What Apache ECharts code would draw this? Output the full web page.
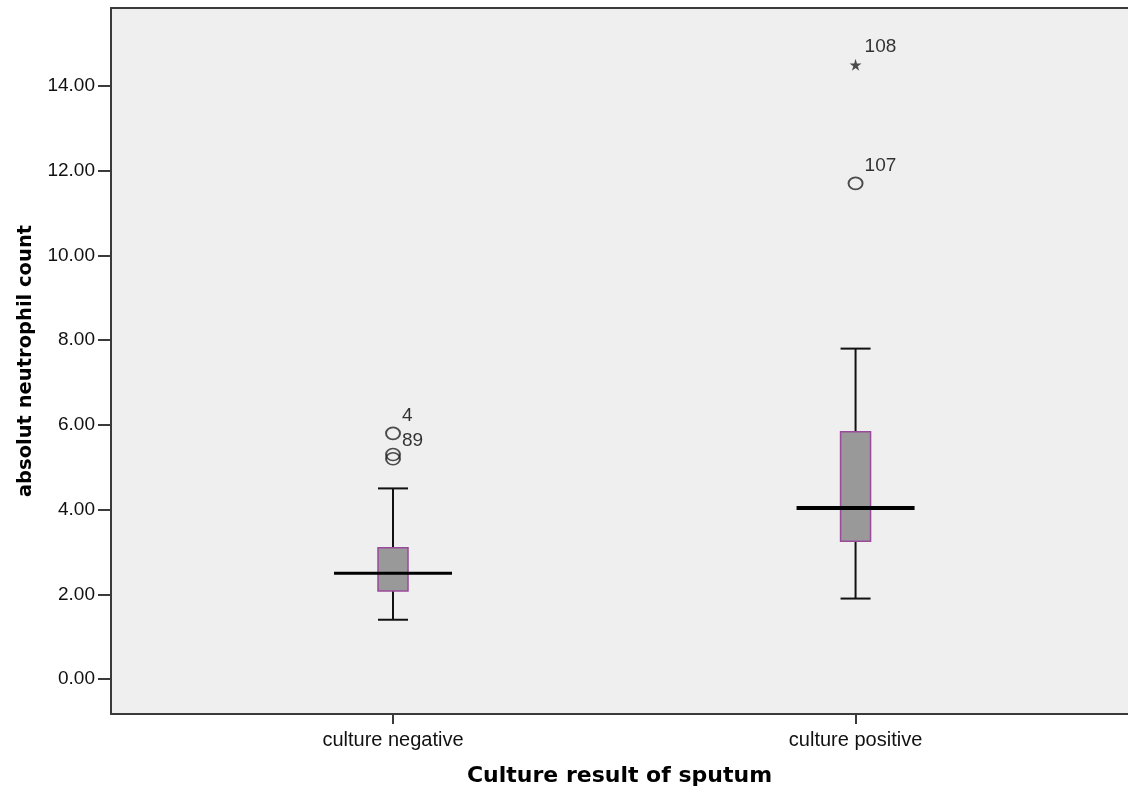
<!DOCTYPE html>
<html>
<head>
<meta charset="utf-8">
<title>Absolute neutrophil count by sputum culture result</title>
<script src="https://cdn.jsdelivr.net/npm/echarts@6/dist/echarts.min.js"></script>
<style>
  html, body { margin: 0; padding: 0; background: #ffffff; }
  #chart { width: 1128px; height: 792px; }
</style>
</head>
<body>
<div id="chart"></div>
<script>
// Groups and five-number summaries (whisker ends, quartiles, median)
const categories  = ['culture negative', 'culture positive'];
const whiskerLow  = [1.40, 1.90];
const quartile1   = [2.08, 3.25];
const medians     = [2.50, 4.04];
const quartile3   = [3.10, 5.84];
const whiskerHigh = [4.50, 7.80];

// Outliers: group index, value, case label
const outlierGroup = [0, 0, 0, 1];
const outlierValue = [5.80, 5.30, 5.20, 11.70];
const outlierCase  = ['4', '', '89', '107'];

// Extreme values (star markers)
const extremeGroup = [1];
const extremeValue = [14.50];
const extremeCase  = ['108'];

const yTicks = [0, 2, 4, 6, 8, 10, 12, 14];

// Axis ranges
const X_MIN = -0.6097, X_MAX = 1.589;
const Y_MIN = -0.825, Y_MAX = 15.84;

// Styling constants
const BOX_PX = 30;
const MEDIAN_PX = 118;
const MEDIAN_STROKE = [3, 4];
const FRAME = '#3a3a3a';
const STAR = 'path://M50,0 L61,35 L98,35 L68,57 L79,91 L50,70 L21,91 L32,57 L2,35 L39,35 Z';

const boxData = categories.map((c, i) =>
  [i, whiskerLow[i], quartile1[i], medians[i], quartile3[i], whiskerHigh[i]]);

const outlierData = outlierValue.map((v, i) =>
  ({ value: [outlierGroup[i], v], name: outlierCase[i] }));
const extremeData = extremeValue.map((v, i) =>
  ({ value: [extremeGroup[i], v], name: extremeCase[i] }));

function renderBox(params, api) {
  const x = api.value(0);
  const pLow = api.coord([x, api.value(1)]);
  const pQ1 = api.coord([x, api.value(2)]);
  const pMed = api.coord([x, api.value(3)]);
  const pQ3 = api.coord([x, api.value(4)]);
  const pHigh = api.coord([x, api.value(5)]);
  const cx = pMed[0];
  const half = BOX_PX / 2;
  const lineStyle = { stroke: '#111111', lineWidth: 2 };
  return {
    type: 'group',
    children: [
      { type: 'line', shape: { x1: cx, y1: pHigh[1], x2: cx, y2: pQ3[1] }, style: lineStyle },
      { type: 'line', shape: { x1: cx, y1: pQ1[1], x2: cx, y2: pLow[1] }, style: lineStyle },
      { type: 'line', shape: { x1: cx - half, y1: pHigh[1], x2: cx + half, y2: pHigh[1] }, style: lineStyle },
      { type: 'line', shape: { x1: cx - half, y1: pLow[1], x2: cx + half, y2: pLow[1] }, style: lineStyle },
      { type: 'rect', shape: { x: cx - half, y: pQ3[1], width: BOX_PX, height: pQ1[1] - pQ3[1] },
        style: { fill: '#999999', stroke: '#9a4a9a', lineWidth: 1.5 } },
      { type: 'line', shape: { x1: cx - MEDIAN_PX / 2, y1: pMed[1], x2: cx + MEDIAN_PX / 2, y2: pMed[1] },
        style: { stroke: '#000000', lineWidth: MEDIAN_STROKE[params.dataIndex] } }
    ]
  };
}

const caseLabel = {
  show: true,
  position: 'inside',
  align: 'left',
  verticalAlign: 'middle',
  offset: [9, -18],
  formatter: p => p.name,
  color: '#000000',
  fontFamily: 'Liberation Sans, Arial, sans-serif',
  fontSize: 19
};

const chart = echarts.init(document.getElementById('chart'), null, { renderer: 'canvas' });

chart.setOption({
  animation: false,
  backgroundColor: '#ffffff',
  grid: {
    left: 111, top: 8, right: 0, bottom: 77,
    show: true,
    backgroundColor: '#efefef',
    borderWidth: 0
  },
  xAxis: [
    {
      type: 'value',
      min: X_MIN,
      max: X_MAX,
      splitLine: { show: false },
      axisLine: { show: true, onZero: false, lineStyle: { color: FRAME, width: 2 } },
      axisTick: { show: true, length: 10, customValues: [0, 1], lineStyle: { color: FRAME, width: 2 } },
      axisLabel: {
        customValues: [0, 1],
        formatter: v => categories[Math.round(v)],
        color: '#111111',
        fontFamily: 'Liberation Sans, Arial, sans-serif',
        fontSize: 20,
        margin: 16
      },
      name: 'Culture result of sputum',
      nameLocation: 'middle',
      nameGap: 51,
      nameTextStyle: {
        color: '#000000',
        fontFamily: 'DejaVu Sans, sans-serif',
        fontWeight: 'bold',
        fontSize: 22
      }
    },
    {
      // top frame line
      type: 'value',
      position: 'top',
      min: X_MIN,
      max: X_MAX,
      splitLine: { show: false },
      axisLine: { show: true, onZero: false, lineStyle: { color: FRAME, width: 2 } },
      axisTick: { show: false },
      axisLabel: { show: false }
    }
  ],
  yAxis: {
    type: 'value',
    min: Y_MIN,
    max: Y_MAX,
    splitLine: { show: false },
    axisLine: { show: true, onZero: false, lineStyle: { color: FRAME, width: 2 } },
    axisTick: { show: true, length: 13, customValues: yTicks, lineStyle: { color: FRAME, width: 2 } },
    axisLabel: {
      customValues: yTicks,
      formatter: v => v.toFixed(2),
      color: '#111111',
      fontFamily: 'Liberation Sans, Arial, sans-serif',
      fontSize: 19,
      margin: 16
    },
    name: 'absolut neutrophil count',
    nameLocation: 'middle',
    nameGap: 75,
    nameTextStyle: {
      color: '#000000',
      fontFamily: 'DejaVu Sans, sans-serif',
      fontWeight: 'bold',
      fontSize: 19.5
    }
  },
  series: [
    {
      type: 'custom',
      name: 'box',
      renderItem: renderBox,
      clip: false,
      encode: { x: 0, y: [1, 2, 3, 4, 5] },
      data: boxData,
      z: 2
    },
    {
      type: 'scatter',
      name: 'outliers',
      symbol: 'circle',
      symbolSize: [14, 12],
      itemStyle: { color: 'rgba(0,0,0,0)', borderColor: '#222222', borderWidth: 1.8 },
      label: caseLabel,
      data: outlierData,
      z: 3
    },
    {
      type: 'scatter',
      name: 'extremes',
      symbol: STAR,
      symbolSize: 12,
      itemStyle: { color: '#222222' },
      label: caseLabel,
      data: extremeData,
      z: 3
    }
  ]
});
</script>
</body>
</html>
